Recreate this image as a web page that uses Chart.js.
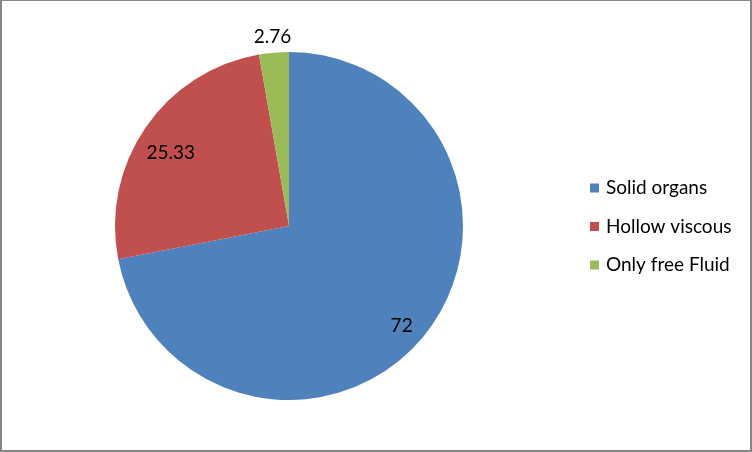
<!DOCTYPE html>
<html>
<head>
<meta charset="utf-8">
<script src="https://cdn.jsdelivr.net/npm/chart.js@4/dist/chart.umd.min.js"></script>
<style>
html,body{margin:0;padding:0;background:#fff;}
#wrap{position:relative;width:752px;height:452px;}
#frame{position:absolute;left:0;top:0;width:752px;height:452px;box-sizing:border-box;border:2px solid #868686;border-top-width:1px;pointer-events:none;}
canvas{display:block;}
</style>
</head>
<body>
<div id="wrap">
<canvas id="c" width="752" height="452"></canvas>
<div id="frame"></div>
</div>
<script>
const categories = ["Solid organs", "Hollow viscous", "Only free Fluid"];
const values = [72, 25.33, 2.76];
const valueLabels = ["72", "25.33", "2.76"];
const colors = ["#4F81BD", "#C0504D", "#9BBB59"];

const FONT = "Lato, 'Open Sans', sans-serif";
// label placement style: fraction along the slice's arc, and radius factor
const labelArcPos = [0.508, 0.47, 0.5];
const labelRadius = [0.865, 0.80, null];

const labelPlugin = {
  id: 'sliceLabels',
  afterDatasetsDraw(chart) {
    const ctx = chart.ctx;
    const meta = chart.getDatasetMeta(0);
    ctx.save();
    ctx.font = "19px " + FONT;
    ctx.fillStyle = "#000";
    ctx.textAlign = "center";
    ctx.textBaseline = "middle";
    meta.data.forEach((arc, i) => {
      const p = arc.getProps(['x', 'y', 'startAngle', 'endAngle', 'outerRadius'], true);
      const a = p.startAngle + (p.endAngle - p.startAngle) * labelArcPos[i];
      const d = labelRadius[i] == null ? p.outerRadius + 16 : p.outerRadius * labelRadius[i];
      ctx.fillText(valueLabels[i], p.x + Math.cos(a) * d, p.y + Math.sin(a) * d);
    });
    ctx.restore();
  }
};

const legendPlugin = {
  id: 'sideLegend',
  afterDraw(chart) {
    const ctx = chart.ctx;
    ctx.save();
    ctx.font = "19px " + FONT;
    ctx.textAlign = "left";
    ctx.textBaseline = "middle";
    const x0 = 590, y0 = 188, step = 38.5;
    categories.forEach((name, i) => {
      const y = y0 + i * step;
      ctx.fillStyle = colors[i];
      ctx.fillRect(x0, y - 4.5, 9, 9);
      ctx.fillStyle = "#000";
      ctx.fillText(name, x0 + 16, y);
    });
    ctx.restore();
  }
};

new Chart(document.getElementById('c'), {
  type: 'pie',
  data: {
    labels: categories,
    datasets: [{
      data: values,
      backgroundColor: colors,
      borderWidth: 0
    }]
  },
  options: {
    responsive: false,
    animation: false,
    layout: { padding: { left: 115, right: 289, top: 52, bottom: 52 } },
    plugins: {
      legend: { display: false },
      tooltip: { enabled: false }
    }
  },
  plugins: [labelPlugin, legendPlugin]
});
</script>
</body>
</html>
